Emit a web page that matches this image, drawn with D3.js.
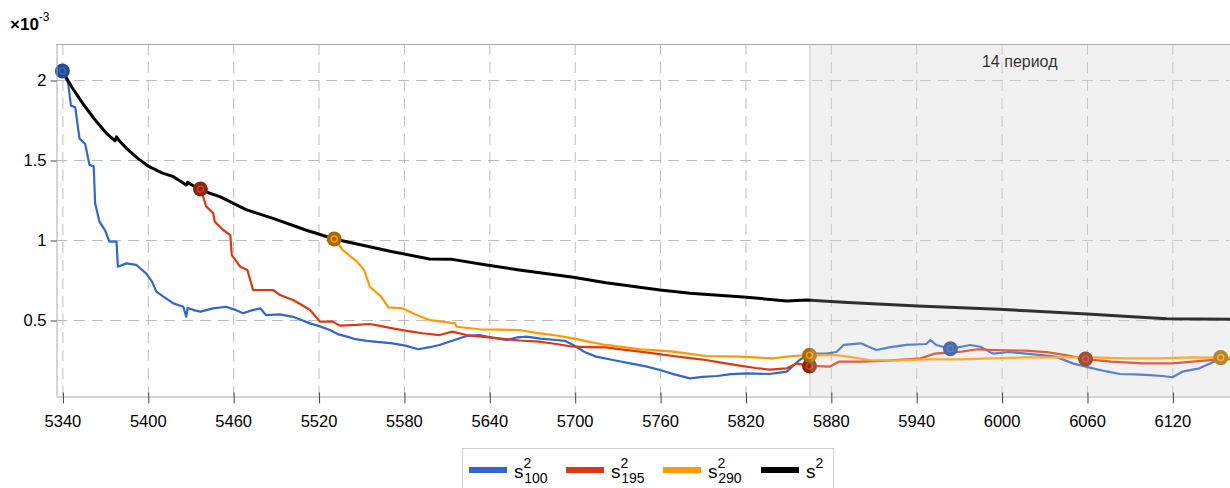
<!DOCTYPE html>
<html>
<head>
<meta charset="utf-8">
<script src="https://cdn.jsdelivr.net/npm/d3@7"></script>
<style>
  body { margin: 0; background: #fff; }
  svg { font-family: "Liberation Sans", Arial, sans-serif; display: block; }
</style>
</head>
<body>
<div id="chart"></div>
<script>
// values are in units of 1e-3
const xTicks = [5340, 5400, 5460, 5520, 5580, 5640, 5700, 5760, 5820, 5880, 5940, 6000, 6060, 6120];
const yTicks = [0.5, 1, 1.5, 2];

const s100 = [[5340,2.056],[5344,1.98],[5346,1.84],[5349,1.83],[5352,1.635],[5356,1.60],[5359,1.47],[5362,1.46],[5363,1.229],[5366,1.115],[5370,1.06],[5373,0.99],[5378,0.99],[5379,0.833],[5385,0.854],[5392,0.844],[5399,0.79],[5403,0.74],[5406,0.677],[5412,0.64],[5418,0.604],[5425,0.583],[5427,0.52],[5428,0.575],[5433,0.56],[5437,0.552],[5446,0.573],[5455,0.583],[5461,0.565],[5467,0.542],[5473,0.56],[5479,0.573],[5483,0.531],[5493,0.535],[5502,0.52],[5508,0.5],[5514,0.479],[5521,0.46],[5528,0.4375],[5534,0.41],[5540,0.396],[5546,0.38],[5554,0.37],[5563,0.362],[5572,0.354],[5581,0.34],[5590,0.317],[5598,0.33],[5605,0.344],[5614,0.37],[5624,0.40],[5633,0.406],[5642,0.39],[5652,0.375],[5660,0.392],[5666,0.396],[5676,0.384],[5687,0.375],[5693,0.37],[5699,0.344],[5707,0.3],[5715,0.271],[5727,0.25],[5739,0.229],[5750,0.21],[5760,0.1875],[5770,0.16],[5781,0.135],[5790,0.145],[5800,0.15],[5810,0.162],[5821,0.167],[5837,0.1625],[5849,0.177],[5858,0.25],[5865,0.29],[5877,0.29],[5884,0.30],[5889,0.344],[5901,0.354],[5912,0.3125],[5922,0.33],[5933,0.344],[5947,0.35],[5950,0.375],[5954,0.344],[5964,0.32],[5978,0.344],[5985,0.333],[5994,0.29],[6005,0.3],[6017,0.29],[6028,0.28],[6038,0.271],[6050,0.229],[6064,0.198],[6073,0.18],[6083,0.1625],[6094,0.16],[6104,0.156],[6113,0.15],[6120,0.142],[6127,0.177],[6139,0.198],[6153,0.254],[6161,0.26]];

const s195 = [[5437,1.319],[5439,1.27],[5441,1.21],[5446,1.167],[5447,1.115],[5453,1.0625],[5458,1.03],[5459,0.906],[5465,0.833],[5470,0.8125],[5474,0.6875],[5488,0.6875],[5493,0.656],[5502,0.625],[5508,0.595],[5514,0.5625],[5521,0.49],[5530,0.49],[5535,0.465],[5547,0.469],[5556,0.475],[5564,0.462],[5572,0.448],[5583,0.43],[5593,0.417],[5605,0.406],[5614,0.427],[5624,0.406],[5636,0.395],[5647,0.385],[5661,0.372],[5675,0.365],[5687,0.35],[5699,0.333],[5710,0.33],[5722,0.329],[5734,0.315],[5746,0.302],[5758,0.288],[5769,0.275],[5781,0.262],[5792,0.25],[5804,0.232],[5816,0.215],[5827,0.2],[5837,0.19],[5849,0.198],[5856,0.229],[5863,0.215],[5879,0.208],[5886,0.24],[5901,0.24],[5920,0.246],[5943,0.26],[5953,0.29],[5972,0.302],[5983,0.317],[5995,0.3125],[6017,0.308],[6033,0.298],[6045,0.281],[6059,0.256],[6077,0.24],[6099,0.229],[6120,0.229],[6134,0.24],[6153,0.254],[6161,0.256]];

const s290 = [[5531,1.006],[5537,0.9375],[5547,0.865],[5552,0.8125],[5556,0.708],[5564,0.646],[5569,0.579],[5579,0.573],[5589,0.531],[5598,0.5],[5607,0.49],[5616,0.479],[5617,0.458],[5633,0.442],[5647,0.44],[5661,0.4375],[5673,0.42],[5685,0.406],[5699,0.385],[5711,0.362],[5722,0.344],[5734,0.33],[5746,0.317],[5758,0.31],[5769,0.302],[5781,0.288],[5792,0.275],[5816,0.271],[5839,0.26],[5853,0.275],[5865,0.28],[5884,0.28],[5893,0.27],[5907,0.25],[5923,0.246],[5947,0.254],[5970,0.254],[5994,0.26],[6017,0.267],[6041,0.267],[6064,0.267],[6088,0.26],[6111,0.26],[6134,0.267],[6154,0.265],[6161,0.265]];

const sAll = [[5340,2.056],[5347,1.95],[5355,1.844],[5363,1.75],[5371,1.667],[5377,1.62],[5378,1.645],[5380,1.62],[5385,1.573],[5393,1.51],[5401,1.458],[5410,1.42],[5418,1.396],[5427,1.344],[5428,1.36],[5437,1.3125],[5451,1.27],[5469,1.19],[5488,1.135],[5511,1.0625],[5531,1.006],[5547,0.975],[5572,0.927],[5598,0.881],[5614,0.879],[5638,0.844],[5661,0.8125],[5699,0.767],[5722,0.733],[5760,0.6875],[5781,0.667],[5821,0.642],[5849,0.619],[5863,0.625],[5880,0.615],[5892,0.61],[5941,0.5875],[5998,0.567],[6021,0.556],[6060,0.5375],[6092,0.52],[6116,0.508],[6161,0.504]];

const seriesNames = ['100', '195', '290', ''];
const seriesColors = ['#3366cc', '#dc3912', '#ff9900', '#000000'];
const markerColors = ['#244a96', '#862810', '#a36c00'];

// markers: series index, x, y
const markerSeries = [0, 1, 2, 0, 1, 2, 1, 2];
const markerX = [5340, 5437, 5531, 5964, 5865, 5865, 6059, 6154];
const markerY = [2.056, 1.319, 1.006, 0.32, 0.2125, 0.28, 0.256, 0.265];

const periodStart = 5865;
const periodLabel = '14 период';

const width = 1230, height = 488;
const plot = { left: 56, top: 44, right: 1230, bottom: 396 };
const font = '"Liberation Sans", Arial, sans-serif';

const svg = d3.select('#chart').append('svg')
  .attr('width', width)
  .attr('height', height);

const x = d3.scaleLinear().domain([5335.5, 6160.5]).range([plot.left, plot.right]);
const y = d3.scaleLinear().domain([0.025, 2.225]).range([plot.bottom, plot.top]);

svg.append('clipPath').attr('id', 'clip')
  .append('rect')
  .attr('x', plot.left).attr('y', plot.top)
  .attr('width', plot.right - plot.left).attr('height', plot.bottom - plot.top);

// shaded period
svg.append('rect')
  .attr('x', x(periodStart)).attr('y', plot.top)
  .attr('width', plot.right - x(periodStart)).attr('height', plot.bottom - plot.top)
  .attr('fill', '#f2f2f2');

// grid
const grid = svg.append('g').attr('stroke', '#bdbdbd').attr('stroke-dasharray', '11,7');
grid.selectAll('.vg').data(xTicks).join('line')
  .attr('x1', d => x(d) + 0.5).attr('x2', d => x(d) + 0.5)
  .attr('y1', plot.top).attr('y2', plot.bottom);
grid.selectAll('.hg').data(yTicks).join('line')
  .attr('x1', plot.left).attr('x2', plot.right)
  .attr('y1', d => y(d) + 0.5).attr('y2', d => y(d) + 0.5);

svg.append('line')
  .attr('x1', x(periodStart) + 0.5).attr('x2', x(periodStart) + 0.5)
  .attr('y1', plot.top).attr('y2', plot.bottom)
  .attr('stroke', '#c4c4c4');

svg.append('text')
  .attr('x', (x(periodStart) + plot.right) / 2)
  .attr('y', 67)
  .attr('text-anchor', 'middle')
  .attr('font-size', 16)
  .attr('fill', '#000')
  .text(periodLabel);

// lines
const line = d3.line().x(d => x(d[0])).y(d => y(d[1]));
const lines = svg.append('g').attr('clip-path', 'url(#clip)').attr('fill', 'none')
  .attr('stroke-linejoin', 'round');
[s100, s195, s290, sAll].forEach((s, i) => {
  lines.append('path')
    .datum(s)
    .attr('d', line)
    .attr('stroke', seriesColors[i])
    .attr('stroke-width', i === 3 ? 3 : 2.2);
});

// markers
const marks = svg.append('g');
markerX.forEach((mx, i) => {
  const s = markerSeries[i];
  marks.append('circle')
    .attr('cx', x(mx)).attr('cy', y(markerY[i])).attr('r', 7.5)
    .attr('fill', markerColors[s]);
  marks.append('circle')
    .attr('cx', x(mx)).attr('cy', y(markerY[i])).attr('r', 3)
    .attr('fill', 'none').attr('stroke', seriesColors[s]).attr('stroke-width', 1.5);
});

// light veil over the period
svg.append('rect')
  .attr('x', x(periodStart) + 1).attr('y', plot.top)
  .attr('width', plot.right - x(periodStart)).attr('height', plot.bottom - plot.top)
  .attr('fill', '#f2f2f2').attr('opacity', 0.2);

// frame
svg.append('line')
  .attr('x1', plot.left).attr('x2', plot.right)
  .attr('y1', plot.top + 0.5).attr('y2', plot.top + 0.5)
  .attr('stroke', '#aaa');

// axes
const xAxis = svg.append('g')
  .attr('transform', `translate(0,${plot.bottom + 0.5})`)
  .call(d3.axisBottom(x).tickValues(xTicks).tickSize(7).tickPadding(12).tickSizeOuter(0)
    .tickFormat(d3.format('d')));
xAxis.select('.domain').attr('stroke', '#aaa');
xAxis.selectAll('.tick line').attr('y1', -4).attr('stroke', '#444').attr('transform', 'translate(0.5,0)');
xAxis.selectAll('.tick text').attr('font-size', 16.5).attr('fill', '#000').attr('font-family', font);

const yAxis = svg.append('g')
  .attr('transform', `translate(${plot.left + 0.5},0)`)
  .call(d3.axisLeft(y).tickValues(yTicks).tickSize(6).tickPadding(4).tickSizeOuter(0)
    .tickFormat(d => d));
yAxis.select('.domain').attr('stroke', '#aaa');
yAxis.selectAll('.tick line').attr('stroke', '#444').attr('transform', 'translate(0,0.5)');
yAxis.selectAll('.tick text').attr('font-size', 16.5).attr('fill', '#000').attr('font-family', font);

// exponent
const expo = svg.append('text').attr('x', 10).attr('y', 30)
  .attr('font-size', 17).attr('font-weight', 'bold').attr('fill', '#000');
expo.append('tspan').text('×10');
expo.append('tspan').attr('dy', -9).attr('font-size', 12).attr('font-weight', 'normal').text('-3');

// legend
const legend = svg.append('g');
legend.append('rect')
  .attr('x', 462.5).attr('y', 448.5).attr('width', 371).attr('height', 50)
  .attr('fill', '#fff').attr('stroke', '#ccc');
const legendX = [469, 566, 663, 761];
seriesNames.forEach((name, i) => {
  legend.append('line')
    .attr('x1', legendX[i]).attr('x2', legendX[i] + 38)
    .attr('y1', 470).attr('y2', 470)
    .attr('stroke', seriesColors[i]).attr('stroke-width', 6);
  const t = legend.append('text')
    .attr('x', legendX[i] + 45).attr('y', 478)
    .attr('font-size', 19).attr('fill', '#000');
  t.append('tspan').text('s');
  t.append('tspan').attr('dy', -10).attr('font-size', 14).text('2');
  if (name) {
    t.append('tspan').attr('dx', -7).attr('dy', 15).attr('font-size', 14).text(name);
  }
});
</script>
</body>
</html>
